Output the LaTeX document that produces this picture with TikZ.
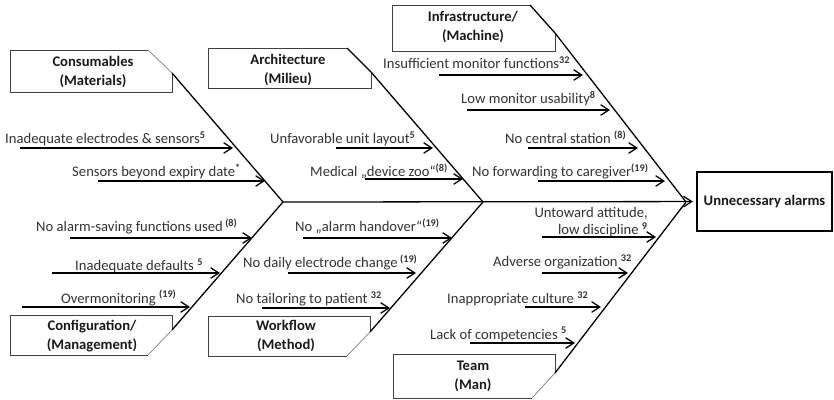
\documentclass[tikz,border=0pt]{standalone}
\usepackage{fontspec}
\setmainfont{Carlito}
\usetikzlibrary{arrows.meta}

\begin{document}
\begin{tikzpicture}[x=0.03cm,y=-0.03cm,
  bone/.style={line width=1.1pt},
  cause/.style={line width=1.1pt,-{Straight Barb[length=7pt,width=9pt]}},
  box/.style={draw=black!75,line width=0.8pt},
  cut/.style={draw=gray,line width=0.6pt},
  head/.style={font=\bfseries\fontsize{12.5}{16}\selectfont,align=center,text=black!90},
  lbl/.style={font=\fontsize{12.5}{15}\selectfont,anchor=base west,inner sep=0pt,text=black!80}]
  \useasboundingbox (0,0) rectangle (834,400);
  % Spine and effect
  \coordinate (j1) at (283,202);
  \coordinate (j2) at (483,202);
  \coordinate (j3) at (686,202);
  \node[draw,line width=1pt,minimum width=4.05cm,minimum height=1.77cm,head] (effect) at (764.5,201.5) {Unnecessary alarms};
  \draw[cause] (j1) -- (effect) [shorten >=3pt];
  % Consumables box
  \draw[box] (148,50) -- (10,50) -- (10,92) -- (172,92) -- (172,73);
  \draw[cut] (148,50) -- (172,73);
  \node[head] (mat) at (93,72) {Consumables\\(Materials)};
  \coordinate (matc) at (172,73);
  \draw[bone] (matc) -- (j1);
  % Architecture box
  \draw[box] (347,48) -- (208,48) -- (208,88) -- (371,88) -- (371,72);
  \draw[bone] (347,48) -- (371,72);
  \node[head] (mil) at (288,70) {Architecture\\(Milieu)};
  \coordinate (milc) at (371,72);
  \draw[bone] (milc) -- (j2);
  % Infrastructure box
  \draw[box] (530,5) -- (392,5) -- (392,51) -- (555,51) -- (555,33);
  \draw[bone] (530,5) -- (555,33);
  \node[head] (mach) at (473,27) {Infrastructure/\\(Machine)};
  \coordinate (machc) at (555,33);
  \draw[bone] (machc) -- (j3);
  % Configuration box
  \draw[box] (172,330) -- (172,315) -- (10,315) -- (10,355) -- (148,355);
  \draw[cut] (172,330) -- (148,355);
  \node[head] (mgmt) at (92,336) {Configuration/\\(Management)};
  \coordinate (mgmtc) at (172,330);
  \draw[bone] (mgmtc) -- (j1);
  % Workflow box
  \draw[box] (370,332) -- (370,316) -- (208,316) -- (208,356) -- (347,356);
  \draw[cut] (370,332) -- (347,356);
  \node[head] (meth) at (286,336) {Workflow\\(Method)};
  \coordinate (methc) at (370,332);
  \draw[bone] (methc) -- (j2);
  % Team box
  \draw[box] (555,373) -- (555,354) -- (393,354) -- (393,398) -- (532,398);
  \draw[cut] (555,373) -- (532,398);
  \node[head] (man) at (473,376) {Team\\(Man)};
  \coordinate (manc) at (555,373);
  \draw[bone] (manc) -- (j3);
  % Cause arrows
  \foreach \n/\xa/\xb/\y in {mat1/20/233/148, mat2/98/265/181,
      mgmt1/70/252/238, mgmt2/52/220/273, mgmt3/22/190/307,
      mil1/336/433/148, mil2/365/463/179,
      meth1/303/452/238, meth2/288/416/273, meth3/262/390/308,
      mach1/439/583/75, mach2/467/610/110, mach3/528/638/148, mach4/538/665/181,
      man1/542/656/237, man2/542/628/273, man3/525/601/307, man4/470/575/343} {
    \coordinate (\n s) at (\xa,\y);
    \coordinate (\n e) at (\xb,\y);
    \draw[cause] (\n s) -- (\n e);
  }
  % Cause labels
  \node[lbl] (mat1) at (5,144) {Inadequate electrodes \& sensors\textsuperscript{\bfseries 5}};
  \node[lbl] (mat2) at (72,177) {Sensors beyond expiry date\textsuperscript{\bfseries *}};
  \node[lbl] (mgmt1) at (36,232) {No alarm-saving functions used\,\textsuperscript{\bfseries (8)}};
  \node[lbl] (mgmt2) at (75,271) {Inadequate defaults \textsuperscript{\bfseries 5}};
  \node[lbl] (mgmt3) at (61,303) {Overmonitoring \textsuperscript{\bfseries (19)}};
  \node[lbl] (mil1) at (270,144) {Unfavorable unit layout\textsuperscript{\bfseries 5}};
  \node[lbl] (mil2) at (310,177) {Medical „device zoo“\textsuperscript{\bfseries (8)}};
  \node[lbl] (meth1) at (295,232) {No „alarm handover“\textsuperscript{\bfseries (19)}};
  \node[lbl] (meth2) at (243,268) {No daily electrode change\,\textsuperscript{\bfseries (19)}};
  \node[lbl] (meth3) at (236,304) {No tailoring to patient \textsuperscript{\bfseries 32}};
  \node[lbl] (mach1) at (383,69) {Insufficient monitor functions\textsuperscript{\bfseries 32}};
  \node[lbl] (mach2) at (461,104) {Low monitor usability\textsuperscript{\bfseries 8}};
  \node[lbl] (mach3) at (505,144) {No central station \textsuperscript{\bfseries (8)}};
  \node[lbl] (mach4) at (472,177) {No forwarding to caregiver\textsuperscript{\bfseries (19)}};
  \node[lbl,anchor=east,align=right] (man1) at (648,222) {Untoward attitude,\\low discipline \textsuperscript{\bfseries 9}};
  \node[lbl] (man2) at (493,267) {Adverse organization \textsuperscript{\bfseries 32}};
  \node[lbl] (man3) at (447,304) {Inappropriate culture \textsuperscript{\bfseries 32}};
  \node[lbl] (man4) at (430,339) {Lack of competencies \textsuperscript{\bfseries 5}};
\end{tikzpicture}
\end{document}
